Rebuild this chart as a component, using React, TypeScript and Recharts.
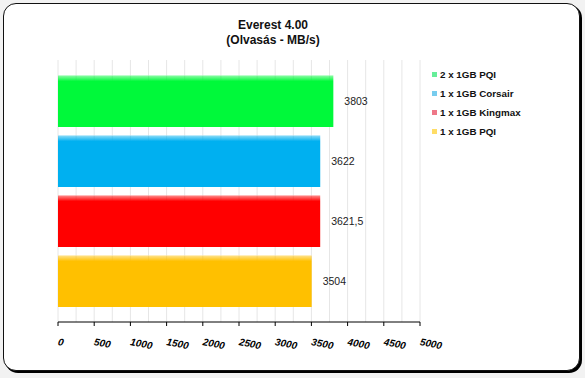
import React from "react";
import { BarChart, Bar, XAxis, YAxis, CartesianGrid, Legend, LabelList } from "recharts";

const seriesNames = ["2 x 1GB PQI", "1 x 1GB Corsair", "1 x 1GB Kingmax", "1 x 1GB PQI"];
const seriesKeys = ["pqi2", "corsair", "kingmax", "pqi1"];
const seriesValues = [3803, 3622, 3621.5, 3504];
const barColors = ["#00f93a", "#00b0f0", "#ff0000", "#ffc000"];
const legendColors = ["#66ee99", "#77ccee", "#ee7788", "#ffdd66"];
const xTicks = [0, 250, 500, 750, 1000, 1250, 1500, 1750, 2000, 2250, 2500, 2750, 3000, 3250, 3500, 3750, 4000, 4250, 4500, 4750, 5000];

const row: { [k: string]: string | number } = { name: "" };
seriesKeys.forEach((k, i) => {
  row[k] = seriesValues[i];
});
const data = [row];

const font = "'Liberation Sans', Arial, sans-serif";

const AxisTick = (props: any) => {
  const { x, y, payload } = props;
  if (payload.value % 500 !== 0) return null;
  return (
    <g>
      <line x1={x} y1={y} x2={x} y2={y + 4} stroke="#000" />
      <text
        x={x}
        y={y + 23}
        transform={`rotate(11 ${x} ${y + 20})`}
        fontSize={10}
        fontWeight="bold"
        fontStyle="italic"
        fontFamily={font}
        fill="#000"
      >
        {payload.value}
      </text>
    </g>
  );
};

const LegendBox = () => (
  <div style={{ fontFamily: font, fontSize: 9.8, fontWeight: "bold", color: "#111" }}>
    {seriesNames.map((n, i) => (
      <div key={n} style={{ display: "flex", alignItems: "center", height: 19 }}>
        <span style={{ width: 5, height: 5, background: legendColors[i], marginRight: 3 }} />
        <span>{n}</span>
      </div>
    ))}
  </div>
);

const App = () => {
  return (
    <div style={{ position: "fixed", left: 0, top: 0, width: 585, height: 378, background: "#f2f2f2" }}>
      <div
        style={{
          position: "absolute",
          left: 3,
          top: 3,
          width: 575,
          height: 366,
          border: "1px solid #111",
          borderRadius: 13,
          background: "#fff",
          boxShadow: "2px 2px 0 #000",
        }}
      />
      <div
        style={{
          position: "absolute",
          left: 0,
          top: 18,
          width: 546,
          textAlign: "center",
          fontFamily: font,
          fontSize: 12,
          fontWeight: "bold",
          lineHeight: "15px",
          color: "#111",
        }}
      >
        <div>Everest 4.00</div>
        <div>(Olvasás - MB/s)</div>
      </div>
      <div style={{ position: "absolute", left: 0, top: 0 }}>
        <BarChart
          width={585}
          height={378}
          data={data}
          layout="vertical"
          margin={{ top: 60, right: 165, bottom: 26, left: 58 }}
          barCategoryGap={15}
          barGap={8}
        >
          <defs>
            {barColors.map((c, i) => (
              <linearGradient key={c} id={`grad${i}`} x1="0" y1="0" x2="0" y2="1">
                <stop offset="0%" stopColor="#ffffff" stopOpacity={0.6} />
                <stop offset="2%" stopColor={c} stopOpacity={0.5} />
                <stop offset="12%" stopColor={c} stopOpacity={1} />
                <stop offset="100%" stopColor={c} stopOpacity={1} />
              </linearGradient>
            ))}
          </defs>
          <CartesianGrid horizontal={false} vertical stroke="#e6e6e6" />
          <XAxis
            type="number"
            domain={[0, 5000]}
            ticks={xTicks}
            interval={0}
            height={30}
            tickSize={0}
            tickMargin={0}
            tickLine={false}
            axisLine={{ stroke: "#000" }}
            tick={<AxisTick />}
          />
          <YAxis type="category" dataKey="name" width={0} tick={false} tickLine={false} axisLine={{ stroke: "#000" }} />
          <Legend
            layout="vertical"
            align="center"
            verticalAlign="middle"
            content={<LegendBox />}
            wrapperStyle={{ position: "absolute", left: 432, top: 65, width: 140 }}
          />
          {seriesKeys.map((k, i) => (
            <Bar key={k} dataKey={k} name={seriesNames[i]} fill={`url(#grad${i})`} isAnimationActive={false}>
              <LabelList
                dataKey={k}
                position="right"
                offset={11}
                fontSize={10.5}
                fontFamily={font}
                fill="#222"
                formatter={(v: any) => String(v).replace(".", ",")}
              />
            </Bar>
          ))}
        </BarChart>
      </div>
    </div>
  );
};

export default App;
